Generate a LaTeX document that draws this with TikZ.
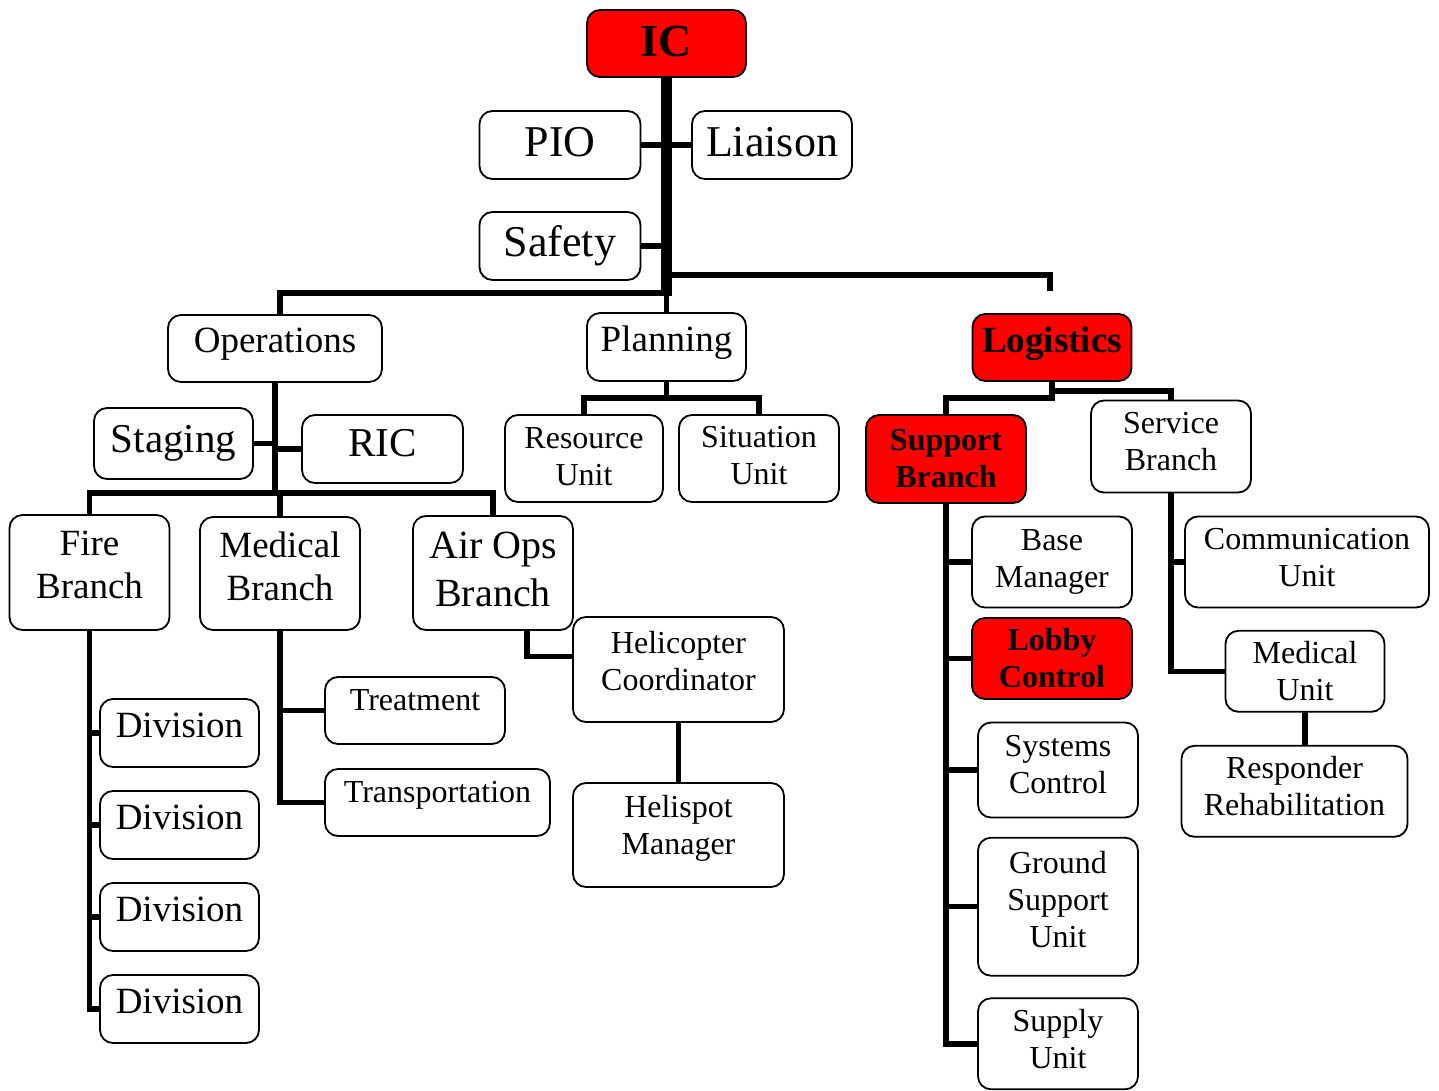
\documentclass[tikz,border=0pt]{standalone}
\usepackage{fontspec}
\setmainfont{Liberation Serif}
\usetikzlibrary{calc}
\definecolor{icsred}{RGB}{255,0,0}
% invisible strut below the last line, pushes the text up inside its box
\newcommand{\dn}[1]{\rule[-#1pt]{0pt}{#1pt}}

\begin{document}
\begin{tikzpicture}[x=1pt,y=-1pt,every node/.style={outer sep=0pt}]
\tikzstyle{box}=[draw,line width=1.8pt,rounded corners=13pt,inner sep=0pt,align=center,fill=white]
\tikzstyle{hot}=[box,fill=icsred]
\tikzstyle{huge}=[font=\fontsize{44}{50}\selectfont]
\tikzstyle{big}=[font=\fontsize{41}{47}\selectfont]
\tikzstyle{mid}=[font=\fontsize{37}{43}\selectfont]
\tikzstyle{small}=[font=\fontsize{32}{37}\selectfont]
\tikzstyle{boldsmall}=[font=\bfseries\fontsize{32}{37}\selectfont]
\tikzstyle{link}=[line width=5.5pt]
\tikzstyle{trunk}=[line width=11pt]

\useasboundingbox (0,0) rectangle (1439,1091);

% command staff
\node (ic) [hot, font=\bfseries\fontsize{46}{52}\selectfont, minimum width=159, minimum height=67] at (666.5,43.5) {IC\dn{4}};
\node (pio) [box, huge, minimum width=161, minimum height=68] at (560,145) {PIO\dn{6}};
\node (liaison) [box, huge, minimum width=160, minimum height=68] at (772,145) {Liaison\dn{6}};
\node (safety) [box, huge, minimum width=161, minimum height=68] at (560,246) {Safety};

% sections
\node (ops) [box, mid, minimum width=214, minimum height=67] at (275,348.5) {Operations\dn{16}};
\node (plan) [box, mid, minimum width=159, minimum height=68] at (666.5,347) {Planning\dn{16}};
\node (log) [hot, font=\bfseries\fontsize{37}{43}\selectfont, minimum width=159, minimum height=67] at (1052,347.5) {Logistics\dn{16}};

% operations
\node (staging) [box, big, minimum width=159, minimum height=71] at (173.5,443.5) {Staging};
\node (ric) [box, big, minimum width=161, minimum height=68] at (382.5,449) {RIC\dn{13}};
\node (fire) [box, mid, minimum width=160, minimum height=115] at (89.5,572.5) {Fire\\Branch\dn{15}};
\node (medbr) [box, mid, minimum width=160, minimum height=113] at (280,573.5) {Medical\\Branch\dn{15}};
\node (airops) [box, font=\fontsize{40}{48}\selectfont, minimum width=160, minimum height=114] at (493,573) {Air Ops\\Branch\dn{7}};

\node (div1) [box, mid, minimum width=159, minimum height=68] at (179.5,733) {Division\dn{15}};
\node (div2) [box, mid, minimum width=159, minimum height=68] at (179.5,825) {Division\dn{15}};
\node (div3) [box, mid, minimum width=159, minimum height=68] at (179.5,917) {Division\dn{15}};
\node (div4) [box, mid, minimum width=159, minimum height=68] at (179.5,1009) {Division\dn{15}};

\node (treat) [box, small, minimum width=180, minimum height=67] at (415,710.5) {Treatment\dn{20}};
\node (transp) [box, small, minimum width=225, minimum height=67] at (437.5,802.5) {Transportation\dn{21}};

\node (heli) [box, small, minimum width=211, minimum height=105] at (678.5,669.5) {Helicopter\\Coordinator\dn{17}};
\node (helispot) [box, small, minimum width=211, minimum height=104] at (678.5,835) {Helispot\\Manager\dn{21}};

% planning
\node (resource) [box, small, minimum width=158, minimum height=87] at (584,458.5) {Resource\\Unit\dn{4}};
\node (situation) [box, small, minimum width=160, minimum height=87] at (759,458.5) {Situation\\Unit\dn{6}};

% logistics
\node (support) [hot, boldsmall, minimum width=160, minimum height=88] at (946,459) {Support\\Branch};
\node (service) [box, small, minimum width=160, minimum height=92] at (1171,446.5) {Service\\Branch\dn{10}};

\node (base) [box, small, minimum width=160, minimum height=91] at (1052,562) {Base\\Manager};
\node (lobby) [hot, boldsmall, minimum width=160, minimum height=81] at (1052,658.5) {Lobby\\Control};
\node (systems) [box, small, minimum width=160, minimum height=95] at (1058,770) {Systems\\Control\dn{12}};
\node (ground) [box, small, minimum width=160, minimum height=138] at (1058,906.7) {Ground\\Support\\Unit\dn{14}};
\node (supply) [box, small, minimum width=160, minimum height=91] at (1058,1043.8) {Supply\\Unit\dn{9}};

\node (comm) [box, small, minimum width=244, minimum height=91] at (1307,562) {Communication\\Unit\dn{9}};
\node (medunit) [box, small, minimum width=159, minimum height=81] at (1305,671.3) {Medical\\Unit};
\node (resp) [box, small, minimum width=226, minimum height=91] at (1294.5,791.3) {Responder\\Rehabilitation\dn{11}};

% connectors
\coordinate (icfoot) at ($(ic.south)+(0,219)$);
\coordinate (logtop) at ($(log.north)+(-2,-23)$);
\draw [trunk] (ic.south) -- (icfoot);
\draw [link] (pio.east) -- (pio.east -| ic.south);
\draw [link] (liaison.west) -- (liaison.west -| ic.south);
\draw [link] (safety.east) -- (safety.east -| ic.south);
\draw [link] (icfoot) -- (plan.north);
\draw [link] ($(icfoot)+(0,-3)$) -| ($(ops.north)+(5,0)$);
\draw [link] ($(ic.south)+(0,198)$) -| (logtop);

\coordinate (opsfoot) at ($(ops.south)+(0,111)$);
\draw [link] (ops.south) -- (opsfoot);
\draw [link] (staging.east) -- (staging.east -| ops.south);
\draw [link] (ric.west) -- (ric.west -| ops.south);
\draw [link] (fire.north) |- (opsfoot) -| (airops.north);
\draw [link] (medbr.north) -- (medbr.north |- opsfoot);

\draw [link] (fire.south) |- (div4.west);
\draw [link] (div1.west -| fire.south) -- (div1.west);
\draw [link] (div2.west -| fire.south) -- (div2.west);
\draw [link] (div3.west -| fire.south) -- (div3.west);

\draw [link] (medbr.south) |- (transp.west);
\draw [link] (treat.west -| medbr.south) -- (treat.west);

\draw [link] ($(airops.south)+(34,0)$) |- ($(heli.west)+(0,-13)$);
\draw [link] (heli.south) -- (helispot.north);

\coordinate (planfoot) at ($(plan.south)+(0,17)$);
\draw [link] (plan.south) -- (planfoot);
\draw [link] (resource.north) |- (planfoot) -| (situation.north);

\coordinate (logfoot) at ($(log.south)+(0,17)$);
\draw [link] (log.south) -- (logfoot) -| (support.north);
\draw [link] ($(log.south)+(0,10)$) -| (service.north);

\draw [link] (support.south) |- (supply.west);
\draw [link] (base.west -| support.south) -- (base.west);
\draw [link] (lobby.west -| support.south) -- (lobby.west);
\draw [link] (systems.west -| support.south) -- (systems.west);
\draw [link] (ground.west -| support.south) -- (ground.west);

\draw [link] (service.south) |- (medunit.west);
\draw [link] (comm.west -| service.south) -- (comm.west);
\draw [link] (medunit.south) -- (medunit.south |- resp.north);
\end{tikzpicture}
\end{document}
